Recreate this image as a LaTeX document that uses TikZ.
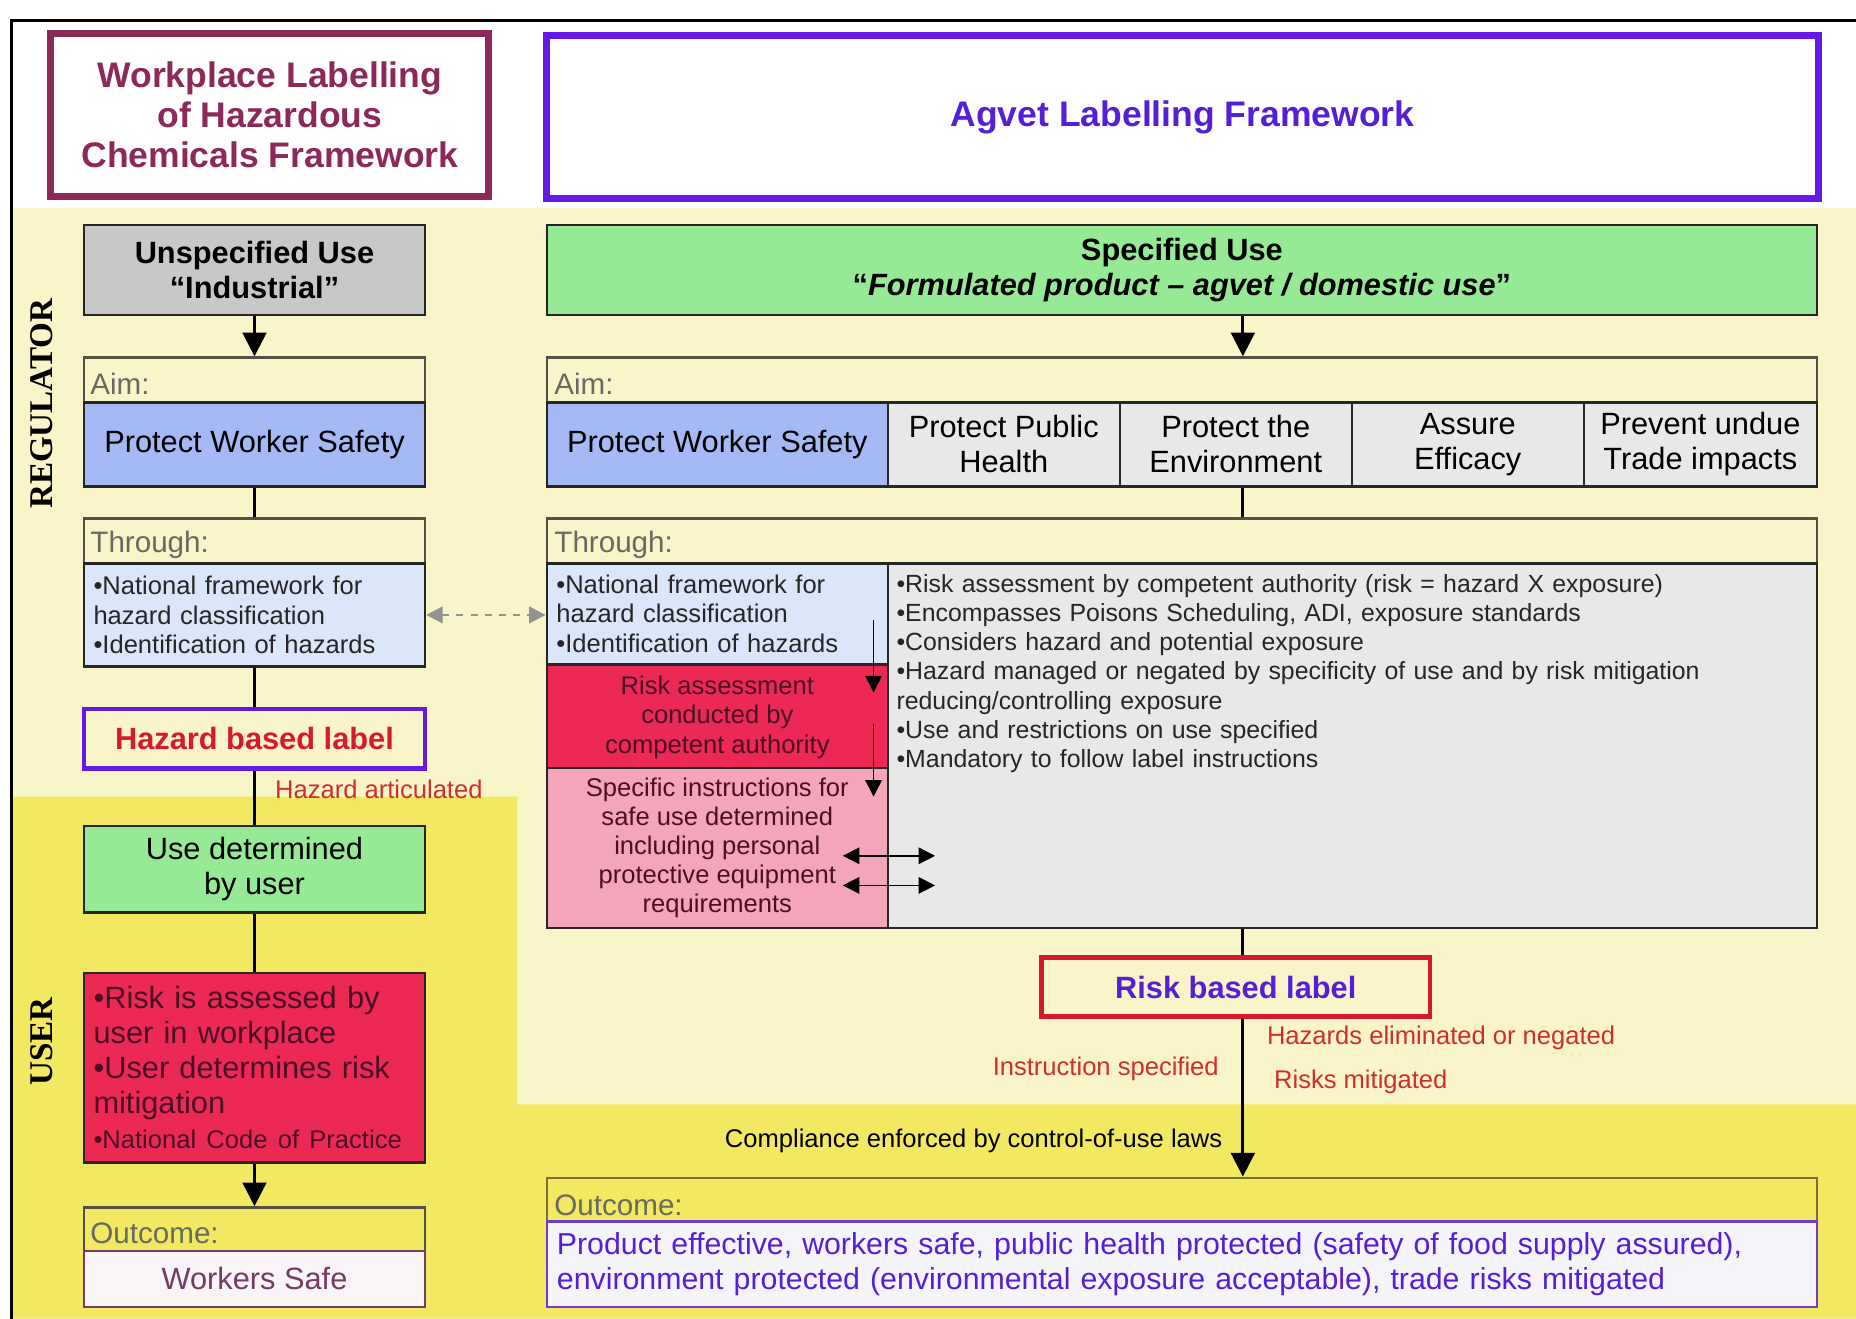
\documentclass[tikz,border=0pt]{standalone}
\usepackage{fontspec}
\setmainfont{Liberation Sans}
\newfontfamily\serifbf{Liberation Serif}
\usepackage{tikz}
\usetikzlibrary{arrows.meta, calc, positioning}
\usepackage{xcolor}
\definecolor{palebg}{RGB}{249, 245, 200}
\definecolor{userbg}{RGB}{243, 232, 98}
\definecolor{wlframe}{RGB}{140, 40, 90}
\definecolor{agframe}{RGB}{100, 25, 230}
\definecolor{agtext}{RGB}{85, 30, 215}
\definecolor{grayfill}{RGB}{200, 200, 200}
\definecolor{greenfill}{RGB}{150, 234, 150}
\definecolor{bluefill}{RGB}{165, 185, 245}
\definecolor{bluelt}{RGB}{220, 230, 250}
\definecolor{redfill}{RGB}{236, 40, 85}
\definecolor{pinkfill}{RGB}{245, 165, 185}
\definecolor{cellgray}{RGB}{232, 232, 232}
\definecolor{hazred}{RGB}{215, 25, 45}
\definecolor{notered}{RGB}{210, 45, 45}
\definecolor{hdrgray}{RGB}{105, 105, 100}
\definecolor{paneline}{RGB}{85, 80, 65}
\definecolor{maroontext}{RGB}{75, 15, 35}
\definecolor{safefill}{RGB}{248, 244, 248}
\definecolor{safetext}{RGB}{115, 60, 100}
\definecolor{outfill}{RGB}{246, 244, 251}
\definecolor{outline}{RGB}{110, 60, 200}
\newcommand{\fbig}{\fontsize{13pt}{14.8pt}\selectfont}
\newcommand{\fsml}{\fontsize{10.8pt}{12.3pt}\selectfont}
\newcommand{\fttl}{\fontsize{15pt}{17pt}\selectfont\bfseries}

\begin{document}
\begin{tikzpicture}[x=0.5pt, y=-0.5pt,
		pane/.style={draw=paneline, line width=1pt, inner sep=0pt},
		cellbox/.style={draw=black!85, line width=1pt, align=center, font=\fbig, inner sep=2pt},
		listbox/.style={draw=black!85, line width=1pt, align=left, font=\fsml, inner xsep=4pt, inner ysep=2pt},
		hdr/.style={anchor=west, font=\fontsize{12.5pt}{14pt}\selectfont, text=hdrgray, inner sep=0pt},
		redlbl/.style={font=\fsml, text=notered, inner sep=0pt},
		conn/.style={line width=1.2pt},
		bigarrow/.style={-{Triangle[length=10pt, width=10pt]}, line width=1.2pt},
		smallarrow/.style={-{Triangle[length=7pt, width=7pt]}, line width=0.6pt},
		dblarrow/.style={{Triangle[length=7pt, width=7pt]}-{Triangle[length=7pt, width=7pt]}, line width=0.6pt},
		dasharrow/.style={{Triangle[length=7pt, width=7pt]}-{Triangle[length=7pt, width=7pt]}, dashed, gray!85, line width=1pt}]
	
	\useasboundingbox (0,0) rectangle (1568,1114);
	\fill[white] (0,0) rectangle (1568,1114);
	
	%--- Background: regulator and user zones ---
	\fill[palebg] (10,176) rectangle (1568,1114);
	\fill[userbg] (10,673) -- (437,673) -- (437,933) -- (1568,933) -- (1568,1114) -- (10,1114) -- cycle;
	\draw[line width=1.2pt] (10,1114) -- (10,17) -- (1568,17);
	
	\node[rotate=90, font=\serifbf\fontsize{14pt}{14pt}\selectfont\bfseries] (regl) at (35,341) {REGULATOR};
	\node[rotate=90, font=\serifbf\fontsize{14pt}{14pt}\selectfont\bfseries] (userl) at (35,880) {USER};
	
	%--- Titles ---
	\node[draw=wlframe, line width=3pt, fill=white, minimum width=185pt, minimum height=69pt,
	align=center, font=\fttl, text=wlframe] (wltitle) at (228,97)
	{Workplace Labelling\\of Hazardous\\Chemicals Framework};
	\node[draw=agframe, line width=3pt, fill=white, minimum width=537pt, minimum height=69pt,
	font=\fttl, text=agtext] (agtitle) at (999,99) {Agvet Labelling Framework};
	
	%--- Left column: workplace labelling ---
	\node[cellbox, fill=grayfill, minimum width=144pt, minimum height=38pt, font=\fbig\bfseries] (unspec) at (215,228)
	{Unspecified Use\\“Industrial”};
	\node[pane, minimum width=144pt, minimum height=54.5pt] (aimL) at (215,356.5) {};
	\node[hdr] at (76,324) {Aim:};
	\node[cellbox, fill=bluefill, minimum width=144pt, minimum height=35.5pt] (pwsL) at (215,375.5) {Protect Worker Safety};
	\node[pane, minimum width=144pt, minimum height=62.5pt] (thrL) at (215,500.5) {};
	\node[hdr] at (76,460) {Through:};
	\node[listbox, fill=bluelt, text width=136pt, minimum height=43.5pt, text=black!85] (natL) at (215,519.5)
	{•National framework for\\hazard classification\\•Identification of hazards};
	\node[draw=agframe, line width=2pt, fill=palebg, minimum width=144pt, minimum height=25pt,
	font=\fbig\bfseries, text=hazred] (hazlab) at (215,624) {Hazard based label};
	\node[redlbl, anchor=west] (hazart) at (232,667) {Hazard articulated};
	\node[cellbox, fill=greenfill, minimum width=144pt, minimum height=36.5pt] (usedet) at (215,734.5)
	{Use determined\\by user};
	\node[listbox, fill=redfill, text width=136pt, minimum height=80pt, font=\fbig, text=maroontext] (userrisk) at (215,902)
	{•Risk is assessed by\\user in workplace\\•User determines risk\\mitigation\\{\fsml •National Code of Practice}};
	\node[pane, minimum width=144pt, minimum height=42pt] (outL) at (215,1062) {};
	\node[hdr] at (76,1042) {Outcome:};
	\node[cellbox, draw=safetext, fill=safefill, minimum width=144pt, minimum height=23.5pt, text=safetext] (workers) at (215,1080.5)
	{Workers Safe};
	
	\draw[bigarrow] (unspec) -- (aimL);
	\draw[conn] (aimL) -- (thrL);
	\draw[conn] (thrL) -- (hazlab);
	\draw[conn] (hazlab) -- (usedet);
	\draw[conn] (usedet) -- (userrisk);
	\draw[bigarrow] (userrisk) -- (outL);
	
	%--- Right column: agvet labelling ---
	\coordinate (spine) at (1050,0);
	\node[cellbox, fill=greenfill, minimum width=536.5pt, minimum height=38pt, font=\fbig\bfseries] (specuse) at (998.5,228)
	{Specified Use\\“\textit{Formulated product – agvet / domestic use}”};
	\node[pane, minimum width=536.5pt, minimum height=54.5pt] (aimR) at (998.5,356.5) {};
	\node[hdr] at (468,324) {Aim:};
	\node[cellbox, fill=bluefill, minimum width=144pt, minimum height=35.5pt] (pwsR) at (606,375.5) {Protect Worker Safety};
	\node[cellbox, fill=cellgray, minimum width=98pt, minimum height=35.5pt] (pubh) at (848,375.5) {Protect Public\\Health};
	\node[cellbox, fill=cellgray, minimum width=98pt, minimum height=35.5pt] (envt) at (1044,375.5) {Protect the\\Environment};
	\node[cellbox, fill=cellgray, minimum width=98pt, minimum height=35.5pt] (effc) at (1240,375.5) {Assure\\Efficacy};
	\node[cellbox, fill=cellgray, minimum width=98.5pt, minimum height=35.5pt] (trade) at (1436.5,375.5) {Prevent undue\\Trade impacts};
	
	\node[pane, minimum width=536.5pt, minimum height=173pt] (thrR) at (998.5,611) {};
	\node[hdr] at (468,460) {Through:};
	\node[listbox, fill=bluelt, text width=136pt, minimum height=42.5pt, text=black!85] (natR) at (606,518.5)
	{•National framework for\\hazard classification\\•Identification of hazards};
	\node[cellbox, fill=redfill, minimum width=144pt, minimum height=44pt, font=\fsml, text=maroontext] (raR) at (606,606)
	{Risk assessment\\conducted by\\competent authority};
	\node[cellbox, fill=pinkfill, minimum width=144pt, minimum height=67.5pt, font=\fsml, text=maroontext] (specR) at (606,716.5)
	{Specific instructions for\\safe use determined\\including personal\\protective equipment\\requirements};
	\node[draw=black!85, line width=1pt, fill=cellgray, minimum width=392.5pt, minimum height=154pt] (greyR) at (1142.5,630) {};
	\node[anchor=north west, align=left, text width=384pt, font=\fontsize{10.5pt}{12.3pt}\selectfont, text=black!85, inner xsep=4pt, inner ysep=5pt] (greytxt) at (greyR.north west)
	{•Risk assessment by competent authority (risk = hazard X exposure)\\
		•Encompasses Poisons Scheduling, ADI, exposure standards\\
		•Considers hazard and potential exposure\\
		•Hazard managed or negated by specificity of use and by risk mitigation\\
		reducing/controlling exposure\\
		•Use and restrictions on use specified\\
		•Mandatory to follow label instructions};
	
	\coordinate (ra1) at (738,524);
	\coordinate (ra2) at (738,585);
	\coordinate (ra3) at (738,612);
	\coordinate (ra4) at (738,673);
	\draw[smallarrow] (ra1) -- (ra2);
	\draw[smallarrow] (ra3) -- (ra4);
	\foreach \yy in {723, 748}
	\draw[dblarrow] (712,\yy) -- (790,\yy);
	
	\node[draw=hazred, line width=2pt, fill=palebg, minimum width=164pt, minimum height=25pt,
	font=\fbig\bfseries, text=agtext] (risklab) at (1044,834) {Risk based label};
	\node[redlbl, anchor=west] (hazelim) at (1070,877) {Hazards eliminated or negated};
	\node[redlbl, anchor=west] (riskmit) at (1076,914) {Risks mitigated};
	\node[redlbl, anchor=east] (instr) at (1030,903) {Instruction specified};
	\node[font=\fsml, anchor=east, inner sep=0pt] (comply) at (1033,964) {Compliance enforced by control-of-use laws};
	
	\node[pane, draw=paneline!80!yellow, minimum width=536.5pt, minimum height=54.5pt] (outR) at (998.5,1049.5) {};
	\node[hdr] at (468,1018) {Outcome:};
	\node[draw=outline, line width=1pt, fill=outfill, minimum width=536.5pt, minimum height=36pt,
	align=left, text width=528pt, inner xsep=4pt, font=\fontsize{12.8pt}{14.8pt}\selectfont, text=agtext] (outtxt) at (998.5,1068)
	{Product effective, workers safe, public health protected (safety of food supply assured),\\
		environment protected (environmental exposure acceptable), trade risks mitigated};
	
	\draw[bigarrow] (specuse.south -| spine) -- (aimR.north -| spine);
	\draw[conn] (aimR.south -| spine) -- (thrR.north -| spine);
	\draw[conn] (thrR.south -| spine) -- (risklab.north -| spine);
	\draw[bigarrow] (risklab.south -| spine) -- (outR.north -| spine);
	
	%--- Link between the two hazard frameworks ---
	\draw[dasharrow] (natL.east) -- (natL.east -| natR.west);
\end{tikzpicture}
\end{document}
